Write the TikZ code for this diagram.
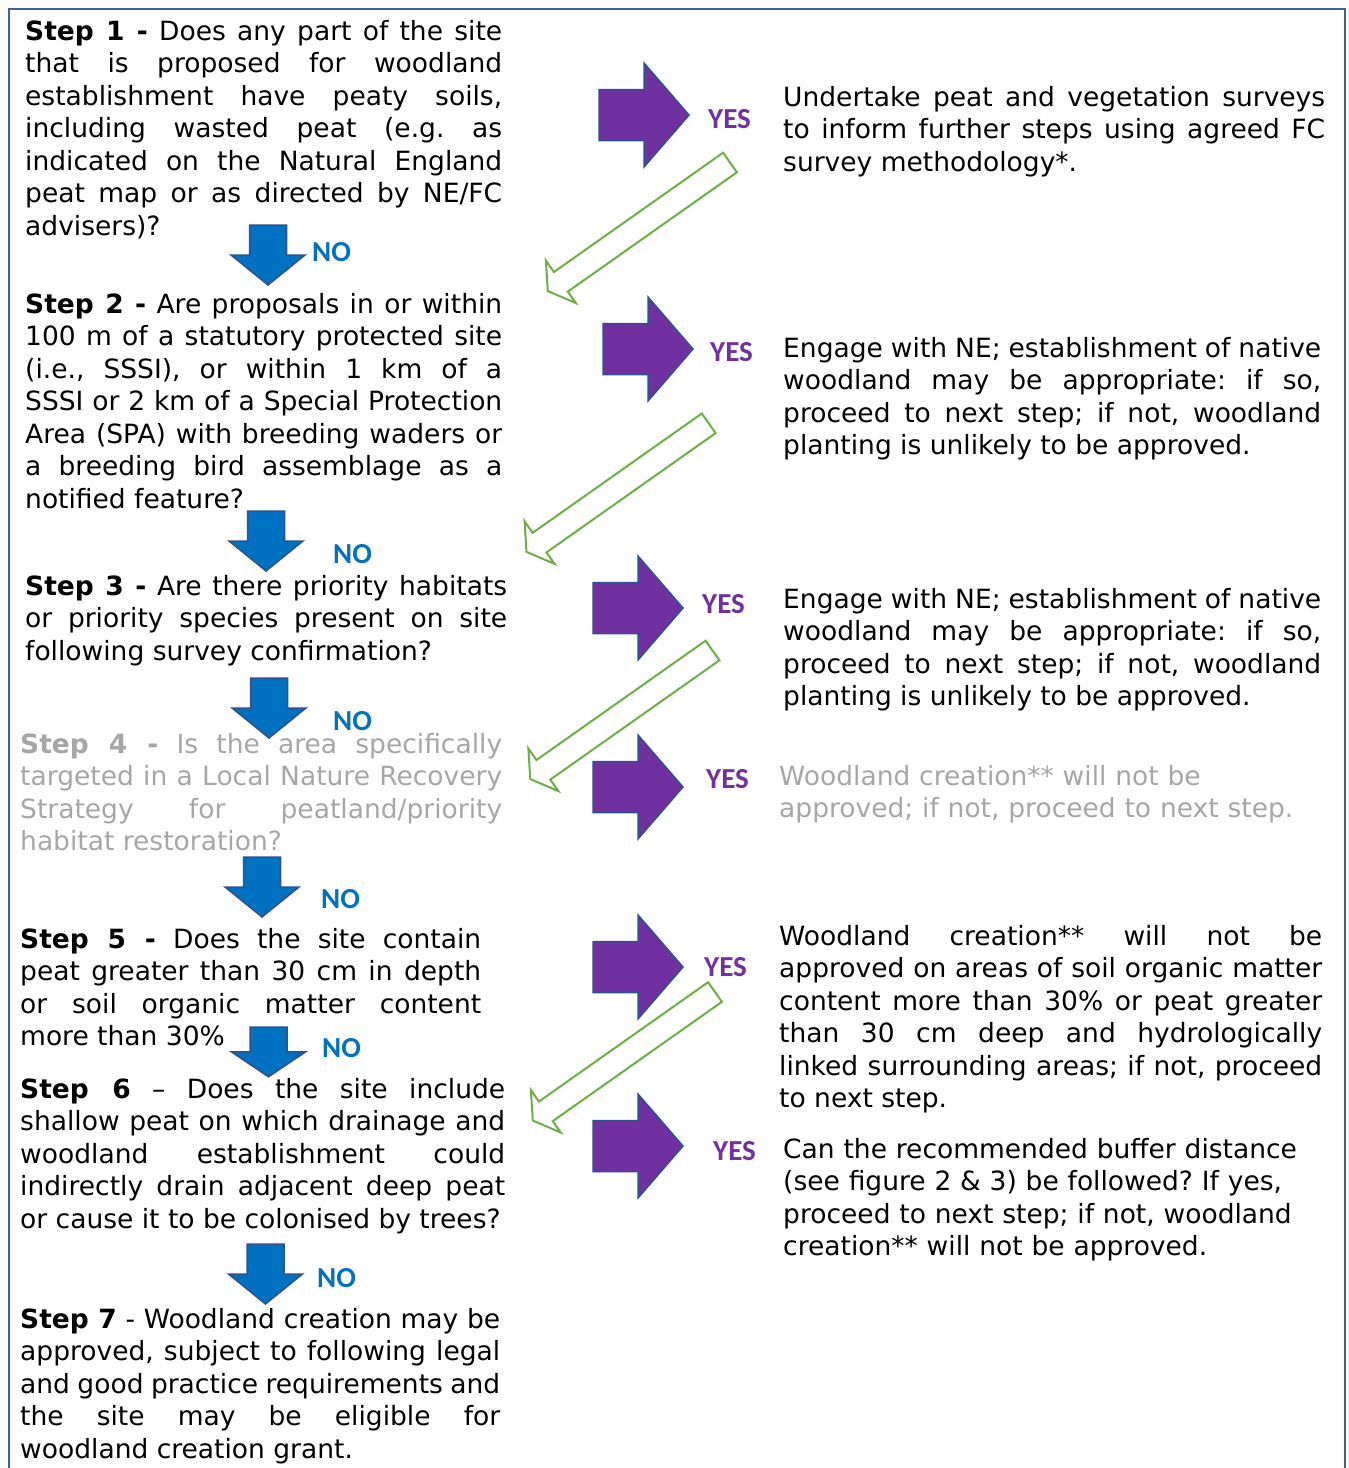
\documentclass[tikz,border=0pt]{standalone}
\usepackage{fontspec}
\setmainfont{DejaVu Sans}
\newfontfamily\answerfont{Carlito}
\usepackage{tikz}
\definecolor{noblue}{RGB}{0,112,192}
\definecolor{yespurple}{RGB}{112,48,160}
\definecolor{arrowedge}{RGB}{47,82,143}
\definecolor{backgreen}{RGB}{112,173,71}
\definecolor{greytext}{RGB}{166,166,166}
\definecolor{framecol}{RGB}{65,96,158}
\tolerance=10000 \hbadness=10000 \hyphenpenalty=10000
\frenchspacing

\tikzset{
  pics/noarrow/.style={code={%
    \filldraw[draw=arrowedge,fill=noblue,line width=1.5pt]
      (-18.5,0) -- (18.5,0) -- (18.5,30) -- (37,30) -- (0,60) -- (-37,30) -- (-18.5,30) -- cycle;}},
  pics/yesarrow/.style={code={%
    \filldraw[draw=arrowedge,fill=yespurple,line width=1.5pt]
      (0,-25.5) -- (45,-25.5) -- (45,-52) -- (90,0) -- (45,52) -- (45,25.5) -- (0,25.5) -- cycle;}},
  pics/backarrow/.style={code={%
    \filldraw[draw=backgreen,fill=white,line width=2pt]
      (0,-12) -- (207,-12) -- (207,-26) -- (223,0) -- (207,26) -- (207,12) -- (0,12) -- cycle;}}
}

\begin{document}
\begin{tikzpicture}[x=1pt,y=-1pt,
  steptext/.style={anchor=base west,inner sep=0pt,align=justify,font=\fontsize{26.5}{32.5}\selectfont},
  answer/.style={anchor=west,inner sep=0pt,font=\answerfont\bfseries\fontsize{29}{29}\selectfont}]
\useasboundingbox (0,0) rectangle (1349,1468);
%Frame
\draw[framecol,line width=2.5pt] (9,1470) -- (9,9) -- (1345,9) -- (1345,1470);

%Steps
\node[steptext,text width=477pt] (step1) at (25,40) {\textbf{Step 1 -} Does any part of the site\linebreak
  that is proposed for woodland\linebreak
  establishment have peaty soils,\linebreak
  including wasted peat (e.g. as\linebreak
  indicated on the Natural England\linebreak
  peat map or as directed by NE/FC\linebreak
  advisers)?};
\node[steptext,text width=477pt] (step2) at (25,313) {\textbf{Step 2 -} Are proposals in or within\linebreak
  100 m of a statutory protected site\linebreak
  (i.e., SSSI), or within 1 km of a\linebreak
  SSSI or 2 km of a Special Protection\linebreak
  Area (SPA) with breeding waders or\linebreak
  a breeding bird assemblage as a\linebreak
  notified feature?};
\node[steptext,text width=482pt] (step3) at (25,595) {\textbf{Step 3 -} Are there priority habitats\linebreak
  or priority species present on site\linebreak
  following survey confirmation?};
\node[steptext,text width=482pt,text=greytext] (step4) at (20,753) {\textbf{Step 4 -} Is the area specifically\linebreak
  targeted in a Local Nature Recovery\linebreak
  Strategy for peatland/priority\linebreak
  habitat restoration?};
\node[steptext,text width=461pt] (step5) at (20,948) {\textbf{Step 5 -} Does the site contain\linebreak
  peat greater than 30 cm in depth\linebreak
  or soil organic matter content\linebreak
  more than 30\%};
\node[steptext,text width=485pt] (step6) at (20,1098) {\textbf{Step 6} – Does the site include\linebreak
  shallow peat on which drainage and\linebreak
  woodland establishment could\linebreak
  indirectly drain adjacent deep peat\linebreak
  or cause it to be colonised by trees?};
\node[steptext,text width=480pt] (step7) at (20,1328) {\textbf{Step 7} - Woodland creation may be\linebreak
  approved, subject to following legal\linebreak
  and good practice requirements and\linebreak
  the site may be eligible for\linebreak
  woodland creation grant.};

%NO arrows
\pic at (268,225) {noarrow};
\pic at (266,511) {noarrow};
\pic at (269,678) {noarrow};
\pic at (262,857) {noarrow};
\pic[yscale=0.83] at (268.5,1027) {noarrow};
\pic at (265.5,1244) {noarrow};
\node[answer,text=noblue] (no1) at (312,252) {NO};
\node[answer,text=noblue] (no2) at (333,554) {NO};
\node[answer,text=noblue] (no3) at (333,721) {NO};
\node[answer,text=noblue] (no4) at (321,899) {NO};
\node[answer,text=noblue] (no5) at (322,1048) {NO};
\node[answer,text=noblue] (no6) at (317,1278) {NO};

%YES arrows
\pic at (599,115) {yesarrow};
\pic at (603,349) {yesarrow};
\pic at (593,608) {yesarrow};
\pic at (593,787) {yesarrow};
\pic at (593,967) {yesarrow};
\pic at (593,1146) {yesarrow};
\node[answer,text=yespurple] (yes1) at (708,119) {YES};
\node[answer,text=yespurple] (yes2) at (710,352) {YES};
\node[answer,text=yespurple] (yes3) at (702,604) {YES};
\node[answer,text=yespurple] (yes4) at (706,779) {YES};
\node[answer,text=yespurple] (yes5) at (704,967) {YES};
\node[answer,text=yespurple] (yes6) at (713,1151) {YES};

%back to next step
\pic[rotate=215.2] at (730,162.5) {backarrow};
\pic[rotate=215.2] at (708.7,423.3) {backarrow};
\pic[rotate=215.2] at (712.5,650.5) {backarrow};
\pic[rotate=215.2] at (715,992) {backarrow};

%Outcomes
\node[steptext,text width=542pt] (out1) at (783,106) {Undertake peat and vegetation surveys\linebreak
  to inform further steps using agreed FC\linebreak
  survey methodology*.};
\node[steptext,text width=538pt] (out2) at (783,357) {Engage with NE; establishment of native\linebreak
  woodland may be appropriate: if so,\linebreak
  proceed to next step; if not, woodland\linebreak
  planting is unlikely to be approved.};
\node[steptext,text width=538pt] (out3) at (783,608) {Engage with NE; establishment of native\linebreak
  woodland may be appropriate: if so,\linebreak
  proceed to next step; if not, woodland\linebreak
  planting is unlikely to be approved.};
\node[steptext,align=left,text width=560pt,text=greytext] (out4) at (779,785) {Woodland creation** will not be\\
  approved; if not, proceed to next step.};
\node[steptext,text width=543pt] (out5) at (779,945) {Woodland creation** will not be\linebreak
  approved on areas of soil organic matter\linebreak
  content more than 30\% or peat greater\linebreak
  than 30 cm deep and hydrologically\linebreak
  linked surrounding areas; if not, proceed\linebreak
  to next step.};
\node[steptext,align=left,text width=545pt] (out6) at (783,1158) {Can the recommended buffer distance\\
  (see figure 2 \& 3) be followed? If yes,\\
  proceed to next step; if not, woodland\\
  creation** will not be approved.};
\end{tikzpicture}
\end{document}
